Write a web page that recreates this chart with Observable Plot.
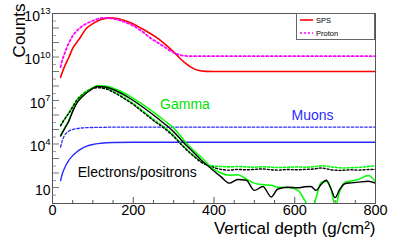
<!DOCTYPE html>
<html><head><meta charset="utf-8">
<script src="https://cdn.jsdelivr.net/npm/d3@7"></script>
<script src="https://cdn.jsdelivr.net/npm/@observablehq/plot@0.6"></script>
<style>
body{margin:0;background:#fff;}
#wrap{position:relative;width:403px;height:242px;font-family:"Liberation Sans",Arial,sans-serif;}
#legend{position:absolute;left:296px;top:13px;width:79px;height:27px;border:1px solid #666;box-sizing:border-box;background:#fff;font-size:7.5px;color:#000;}
#legend .row{position:absolute;left:3px;height:10px;display:flex;align-items:center;}
#legend svg{margin-right:3px;}
</style></head><body><div id="wrap"></div>
<script>
// ---- data (counts given as log10 values) ----
const spsDepth = [20,25,30,41,50,60,70,83,100,120,141,160,180,200,220,243,260,280,300,326,343,360,380,400,500,600,700,800];
const spsLog10 = [8.6,9.0,9.35,10.0,10.6,11.0,11.4,11.95,12.3,12.58,12.7,12.66,12.5,12.28,11.98,11.6,11.3,10.85,10.35,9.64,9.3,9.08,9.01,9.0,9.0,9.0,9.0,9.0];

const protonDepth = [20,25,30,41,50,60,70,83,100,115,128,150,175,200,220,243,260,276,290,300,312,325,340,400,500,600,700,800];
const protonLog10 = [9.3,9.85,10.25,11.0,11.45,11.8,12.05,12.29,12.5,12.65,12.7,12.64,12.45,12.15,11.8,11.3,11.0,10.72,10.45,10.3,10.17,10.09,10.06,10.06,10.06,10.06,10.06,10.06];

const lowDepth = [20,30,40,50,60,75,90,111,130,150,175,200,225,250,277,300,315,330,350,368,393,417,438,459,480,500,521,542,558,583,608,625,640,653,665,678,690,700,711,724,740,757,782,800];
const gammaSpsLog10 = [4.6,5.1,5.6,6.3,6.85,7.35,7.68,8.02,8.0,7.85,7.55,7.15,6.7,6.2,5.62,5.1,4.62,4.1,3.55,3.1,2.4,2.0,1.85,1.88,1.6,1.3,1.2,1.15,1.02,1.0,0.8,0.1,-0.5,0.3,1.35,1.42,0.9,-0.3,0.7,1.35,1.45,1.55,1.83,1.4];
const elecSpsLog10 = [4.55,5.05,5.55,6.25,6.8,7.3,7.64,7.97,7.93,7.76,7.42,7.0,6.52,6.0,5.4,4.85,4.4,3.95,3.4,2.9,2.3,1.75,1.3,1.55,1.5,0.8,1.07,0.35,0.9,1.02,0.98,1.05,1.07,0.8,1.2,1.5,0.9,0.3,0.85,1.26,1.32,1.37,1.43,1.3];
const gammaProtonLog10 = [5.3,5.75,6.15,6.6,7.05,7.45,7.75,7.93,7.88,7.65,7.25,6.8,6.25,5.7,5.16,4.6,4.12,3.7,3.2,2.8,2.5,2.45,2.42,2.45,2.42,2.4,2.43,2.4,2.38,2.4,2.42,2.4,2.42,2.45,2.5,2.48,2.42,2.4,2.36,2.35,2.37,2.38,2.45,2.5];
const elecProtonLog10 = [5.25,5.7,6.1,6.55,7.0,7.4,7.7,7.88,7.82,7.58,7.18,6.72,6.18,5.62,5.08,4.52,4.08,3.65,3.15,2.75,2.45,2.25,2.2,2.25,2.22,2.25,2.28,2.22,2.2,2.24,2.22,2.25,2.26,2.3,2.35,2.3,2.22,2.2,2.18,2.2,2.22,2.2,2.24,2.25];

const muonDepth = [20,25,30,40,50,60,70,85,100,120,150,200,300,400,500,600,700,800];
const muonSpsLog10 = [1.48,2.0,2.35,2.85,3.2,3.45,3.65,3.85,3.97,4.05,4.1,4.12,4.12,4.12,4.12,4.12,4.12,4.12];
const muonProtonLog10 = [3.78,4.3,4.6,4.88,5.0,5.06,5.1,5.13,5.14,5.15,5.16,5.16,5.16,5.16,5.16,5.16,5.17,5.17];

const xMajorTicks = [0,200,400,600,800];
const xMinorTicks = [50,100,150,250,300,350,450,500,550,650,700,750];
const yLabelTicks = [10,1e4,1e7,1e10,1e13];
const yDecadeTicks = [1e1,1e2,1e3,1e4,1e5,1e6,1e7,1e8,1e9,1e10,1e11,1e12,1e13];
const yThirdTicks = [3,3e1,3e2,3e3,3e4,3e5,3e6,3e7,3e8,3e9,3e10,3e11,3e12];

const annotations = [
  {text: "Gamma", depth: 328, log10: 6.70, color: "#00e000"},
  {text: "Muons", depth: 644, log10: 5.97, color: "#2a2aff"},
  {text: "Electrons/positrons", depth: 210, log10: 2.03, color: "#000000"}
];

const legendItems = [
  {label: "SPS", color: "#ff0000", dash: null},
  {label: "Proton", color: "#ff00ff", dash: "2,2"}
];

// ---- build tables ----
function table(depth, logs) { return depth.map((d, i) => ({depth: d, count: Math.pow(10, logs[i])})); }
const series = [
  {data: table(spsDepth, spsLog10), color: "#ff0000", dash: null, w: 1.6},
  {data: table(protonDepth, protonLog10), color: "#ff00ff", dash: "2,2.5", w: 1.8},
  {data: table(muonDepth, muonSpsLog10), color: "#2a2aff", dash: null, w: 1.4},
  {data: table(muonDepth, muonProtonLog10), color: "#2a2aff", dash: "2.5,2", w: 1.3},
  {data: table(lowDepth, gammaProtonLog10), color: "#00ff00", dash: "2,2", w: 1.6},
  {data: table(lowDepth, elecProtonLog10), color: "#000000", dash: "2,2", w: 1.4},
  {data: table(lowDepth, gammaSpsLog10), color: "#00ff00", dash: null, w: 1.5},
  {data: table(lowDepth, elecSpsLog10), color: "#000000", dash: null, w: 1.4}
];

const frameW = 403 - 52 - 28, frameH = 242 - 13 - 39;
const font = '"Liberation Sans", Arial, Helvetica, sans-serif';

const plot = Plot.plot({
  width: 403, height: 242,
  marginLeft: 52, marginRight: 28, marginTop: 13, marginBottom: 39,
  style: {fontFamily: font, fontSize: "15px", background: "white", color: "black"},
  x: {domain: [0, 800], label: null},
  y: {type: "log", domain: [0.79, 1e13], label: null},
  marks: [
    Plot.tickX(xMinorTicks, {x: d => d, insetTop: frameH - 3, stroke: "#555"}),
    Plot.tickX(xMajorTicks, {x: d => d, insetTop: frameH - 6, stroke: "#555"}),
    Plot.tickY(yDecadeTicks, {y: d => d, insetRight: frameW - 7, stroke: "#777"}),
    Plot.tickY(yThirdTicks, {y: d => d, insetRight: frameW - 4, stroke: "#999"}),
    Plot.axisX({ticks: xMajorTicks, tickSize: 0, tickPadding: 1, fontSize: 14.5, tickFormat: d => String(d)}),
    Plot.axisY({ticks: yLabelTicks, tickSize: 0, tickPadding: 2, fontSize: 14,
      tickFormat: d => { const e = Math.round(Math.log10(d)); return e === 1 ? "10" : "10^" + e; }}),
    ...series.map(s => Plot.line(s.data, {x: "depth", y: "count", stroke: s.color, strokeWidth: s.w,
      strokeDasharray: s.dash, curve: "monotone-x", clip: true})),
    Plot.frame({stroke: "#555"}),
    Plot.text(annotations, {x: "depth", y: d => Math.pow(10, d.log10), text: "text", fill: d => d.color, fontSize: 14}),
    Plot.text(["Counts"], {frameAnchor: "top-left", dx: -40, dy: -10, rotate: -90, textAnchor: "end", fontSize: 17}),
    Plot.text(["Vertical depth (g/cm²)"], {frameAnchor: "bottom-right", dx: 0, dy: 30.5, textAnchor: "end", fontSize: 17})
  ]
});

// superscripts for y tick labels
const ns = "http://www.w3.org/2000/svg";
plot.querySelectorAll('g[aria-label="y-axis tick label"] text').forEach(t => {
  const [base, exp] = t.textContent.split("^");
  t.textContent = "";
  const b = document.createElementNS(ns, "tspan");
  b.textContent = base; b.setAttribute("dy", "3");
  t.appendChild(b);
  if (exp) {
    const e = document.createElementNS(ns, "tspan");
    e.textContent = exp; e.setAttribute("font-size", "9.5"); e.setAttribute("dy", "-6.5");
    t.appendChild(e);
  }
});

const wrap = document.getElementById("wrap");
wrap.appendChild(plot);

// legend
const leg = document.createElement("div");
leg.id = "legend";
legendItems.forEach((it, i) => {
  const row = document.createElement("div");
  row.className = "row";
  row.style.top = (i === 0 ? 1 : 14) + "px";
  row.innerHTML = `<svg width="13" height="4"><line x1="0" y1="2" x2="13" y2="2" stroke="${it.color}" stroke-width="1.6" ${it.dash ? `stroke-dasharray="${it.dash}"` : ""}/></svg><span>${it.label}</span>`;
  leg.appendChild(row);
});
wrap.appendChild(leg);
</script>
</body></html>
